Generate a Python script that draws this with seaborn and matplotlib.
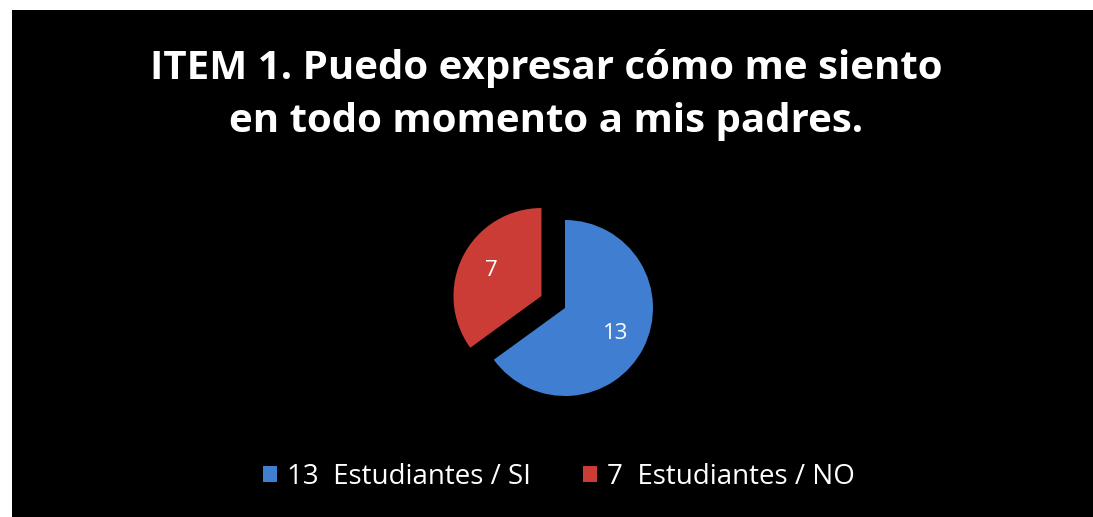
import matplotlib
matplotlib.use("Agg")
import matplotlib.pyplot as plt
import seaborn as sns
from matplotlib.patches import Rectangle, Patch

sns.set_theme(style="dark")
plt.rcParams['font.family'] = ['Open Sans', 'DejaVu Sans']

# Data
categories = ["13  Estudiantes / SI", "7  Estudiantes / NO"]
values = [13, 7]
colors = ["#3F7ED0", "#CC3C37"]
title = "ITEM 1. Puedo expresar cómo me siento\nen todo momento a mis padres."

W, H = 1093, 517
fig = plt.figure(figsize=(W / 100, H / 100), dpi=100)
fig.patch.set_facecolor("black")
# white margins on left and top
fig.patches.append(Rectangle((0, 0), 12 / W, 1, transform=fig.transFigure,
                             facecolor="white", edgecolor="none", zorder=-10))
fig.patches.append(Rectangle((0, 1 - 10 / H), 1, 10 / H, transform=fig.transFigure,
                             facecolor="white", edgecolor="none", zorder=-10))

size = 264
cx, cy = 565, 308
ax = fig.add_axes([(cx - size / 2) / W, (H - cy - size / 2) / H, size / W, size / H])
ax.set_facecolor("none")
ax.set_zorder(5)
total = sum(values)
wedges, texts, autotexts = ax.pie(
    values, colors=colors, startangle=90, counterclock=False,
    explode=[0, 0.3], autopct=lambda p: f"{round(p * total / 100)}",
    pctdistance=0.64, radius=1,
    textprops=dict(color="white", fontsize=16),
    wedgeprops=dict(linewidth=0))
ax.set_xlim(-1.5, 1.5)
ax.set_ylim(-1.5, 1.5)
ax.set_aspect("equal")
ax.axis("off")

fig.text(546 / W, 1 - 95 / H, title, ha="center", va="center", color="white",
         fontsize=29, fontweight="bold", linespacing=1.45, zorder=5)

handles = [Patch(facecolor=c, edgecolor="none") for c in colors]
leg = fig.legend(handles, categories, loc="center", bbox_to_anchor=(559 / W, 40 / H),
                 ncol=2, frameon=False, fontsize=20, labelcolor="white",
                 handlelength=0.5, handleheight=0.5, handletextpad=0.35,
                 columnspacing=1.9)
leg.set_zorder(5)

fig.savefig("out.png", dpi=100, facecolor=fig.get_facecolor())
